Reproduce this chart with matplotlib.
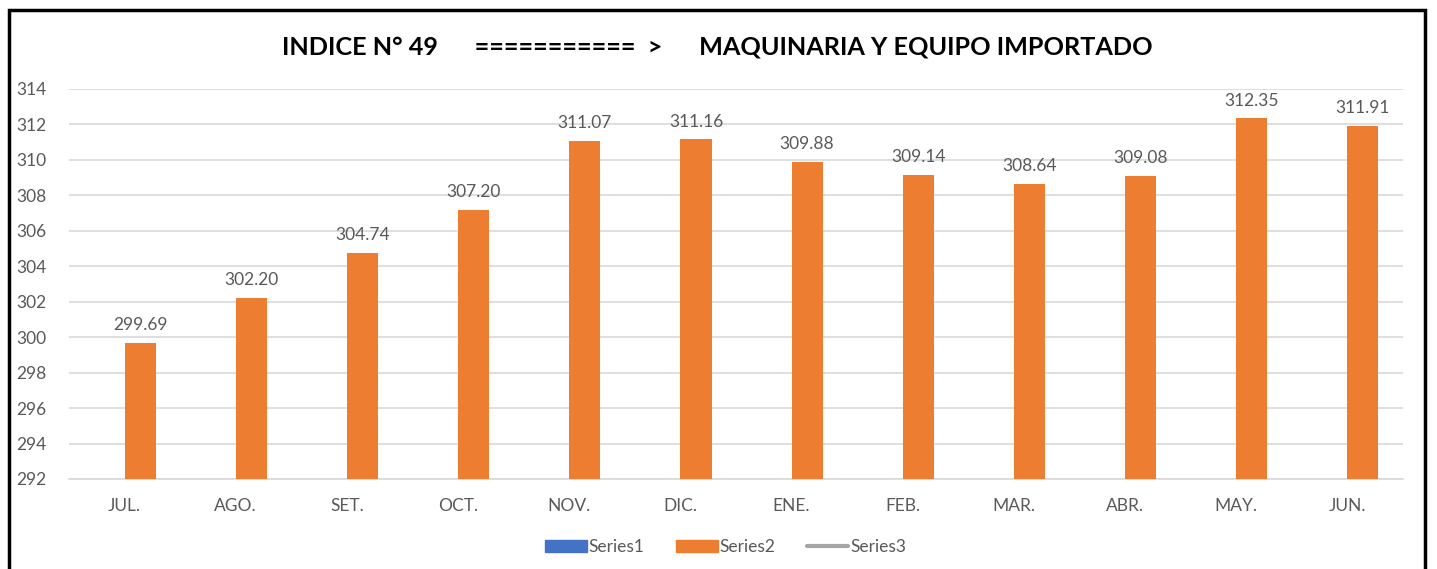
import matplotlib.pyplot as plt
import numpy as np
from matplotlib.patches import Rectangle, Patch
from matplotlib.lines import Line2D

plt.rcParams['font.family'] = ['Lato', 'DejaVu Sans']

months = ["JUL.", "AGO.", "SET.", "OCT.", "NOV.", "DIC.",
          "ENE.", "FEB.", "MAR.", "ABR.", "MAY.", "JUN."]
series2 = [299.69, 302.20, 304.74, 307.20, 311.07, 311.16,
           309.88, 309.14, 308.64, 309.08, 312.35, 311.91]
yticks = np.arange(292, 315, 2)

orange = "#ED7D31"
blue = "#4472C4"
grey_line = "#A5A5A5"
txt = "#595959"

fig = plt.figure(figsize=(14.37, 5.69), dpi=100)
ax = fig.add_axes([0.048, 0.1582, 0.9283, 0.6854])

x = np.arange(len(months))
w = 0.28
# series2 sits in the right half of each cluster (series1 is below the axis minimum)
ax.bar(x + w / 2, np.array(series2) - 292, bottom=292, width=w, color=orange, zorder=3)

for xi, v in zip(x, series2):
    ax.annotate(f"{v:.2f}", (xi + w / 2, v), xytext=(0, 7), textcoords="offset points",
                ha="center", va="bottom", fontsize=12.5, color=txt)

ax.set_xlim(-0.5, len(months) - 0.5)
ax.set_ylim(292, 314)
ax.set_yticks(yticks)
ax.set_xticks(x)
ax.set_xticklabels(months)
ax.tick_params(axis="both", length=0, labelsize=12.5, colors=txt)
ax.tick_params(axis="x", pad=14)
ax.tick_params(axis="y", pad=16)
ax.grid(axis="y", color="#D9D9D9", linewidth=1.2, zorder=0)
for s in ["top", "right", "left"]:
    ax.spines[s].set_visible(False)
ax.spines["bottom"].set_color("#D9D9D9")
ax.spines["bottom"].set_linewidth(1.2)

fig.text(0.499, 0.918,
         "INDICE N° 49      ===========  >      MAQUINARIA Y EQUIPO IMPORTADO",
         ha="center", va="center", fontsize=18.2, fontweight="bold", color="black")

handles = [Patch(color=blue), Patch(color=orange),
           Line2D([0], [0], color=grey_line, linewidth=3, solid_capstyle="round")]
fig.legend(handles, ["Series1", "Series2", "Series3"], loc="center",
           bbox_to_anchor=(0.505, 0.039), ncol=3, frameon=False, fontsize=12.5,
           labelcolor=txt, handlelength=2.4, handleheight=0.7, handletextpad=0.1,
           columnspacing=1.8)

fig.patches.append(Rectangle((0.0063, -0.1), 0.9854, 1.083, transform=fig.transFigure,
                             fill=False, edgecolor="black", linewidth=2.5, zorder=10))

fig.savefig("out.png", dpi=100)
